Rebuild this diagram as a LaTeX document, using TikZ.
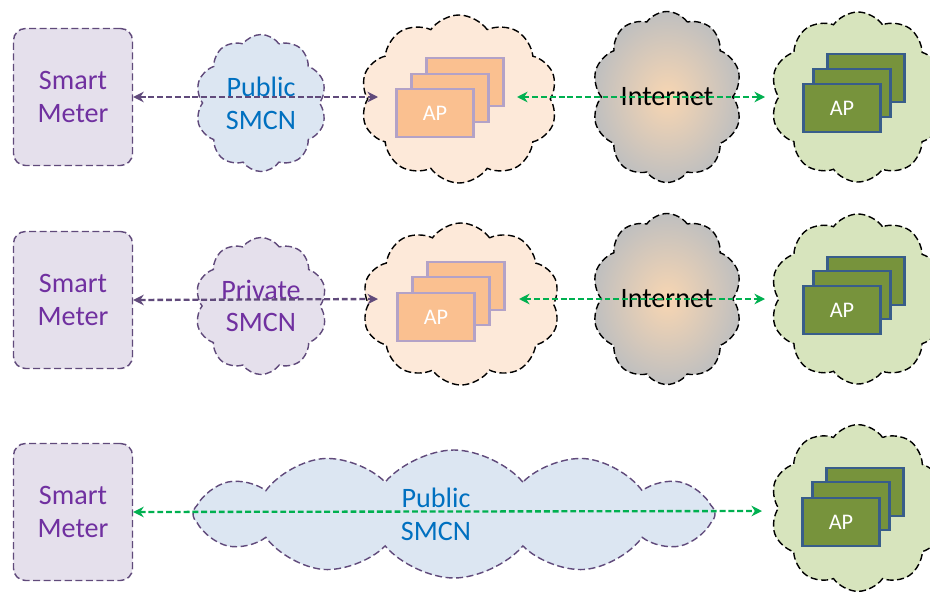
\documentclass[tikz,border=0pt]{standalone}
\usepackage{fontspec}
\setmainfont{Carlito}
\usetikzlibrary{shapes.symbols,arrows.meta}

\definecolor{smpurple}{HTML}{7030A0}
\definecolor{smblue}{HTML}{0070C0}
\definecolor{lavender}{HTML}{E5E0EC}
\definecolor{skyfill}{HTML}{DCE6F2}
\definecolor{peach}{HTML}{FDE9D9}
\definecolor{apfill}{HTML}{FAC090}
\definecolor{apedge}{HTML}{B3A2C7}
\definecolor{leaf}{HTML}{D7E4BD}
\definecolor{olive}{HTML}{77933C}
\definecolor{gapedge}{HTML}{385D8A}
\definecolor{linkpurple}{HTML}{604A7B}
\definecolor{linkgreen}{HTML}{00B050}
\definecolor{netgray}{HTML}{BFBFBF}
\definecolor{netglow}{HTML}{F8D6B2}

\begin{document}
\begin{tikzpicture}[
  x=0.03cm, y=-0.03cm,
  meter/.style={rectangle, rounded corners=0.36cm, draw=linkpurple, dash pattern=on 6pt off 3pt, line width=1.2pt, fill=lavender, minimum width=3.57cm, minimum height=4.11cm, text=smpurple, font=\fontsize{24}{28}\selectfont, align=center},
  net/.style={cloud, cloud puffs=10, cloud puff arc=110, cloud ignores aspect, draw, dash pattern=on 6pt off 3pt, line width=1.2pt, inner sep=0pt, align=center, font=\fontsize{24}{28}\selectfont},
  orangeap/.style={rectangle, fill=apfill, draw=apedge, line width=2pt, minimum width=2.31cm, minimum height=1.44cm, text=white, font=\fontsize{19}{22}\selectfont},
  greenap/.style={rectangle, fill=olive, draw=gapedge, line width=2.2pt, minimum width=2.31cm, minimum height=1.44cm, text=white, font=\fontsize{19}{22}\selectfont},
  purplelink/.style={draw=linkpurple, line width=2pt, dash pattern=on 5pt off 2.5pt, {Stealth[length=9pt,width=9pt]}-{Stealth[length=9pt,width=9pt]}},
  greenlink/.style={draw=linkgreen, line width=2pt, dash pattern=on 5pt off 2.5pt, {Stealth[length=9pt,width=9pt]}-{Stealth[length=9pt,width=9pt]}}
]
  \useasboundingbox (0,0) rectangle (930,591);

  % Row 1 - public SMCN
  \node[meter] (sm1) at (73,97) {Smart\\Meter};
  \node[net, fill=skyfill, draw=linkpurple, text=smblue, minimum width=3.93cm, minimum height=4.11cm] (smcn1) at (261,103) {Public\\SMCN};
  \node[net, fill=peach, minimum width=5.91cm, minimum height=5.04cm] (apc1) at (459,99) {};
  \node[net, inner color=netglow, outer color=netgray, minimum width=4.5cm, minimum height=5.13cm] (web1) at (667,97) {Internet};
  \node[net, fill=leaf, minimum width=5.25cm, minimum height=5.1cm] (hq1) at (858,97) {};
  \node[orangeap] (ap1c) at (465,82) {};
  \node[orangeap] (ap1b) at (450,98) {};
  \node[orangeap] (ap1a) at (435,113) {AP};
  \node[greenap] (hq1c) at (866,78) {};
  \node[greenap] (hq1b) at (852,93) {};
  \node[greenap] (hq1a) at (842,108) {AP};
  \coordinate (pin1) at (378,97);
  \coordinate (gout1) at (517,97);
  \coordinate (gin1) at (765,97);

  % Row 2 - private SMCN
  \node[meter] (sm2) at (73,300) {Smart\\Meter};
  \node[net, fill=lavender, draw=linkpurple, text=smpurple, minimum width=3.96cm, minimum height=4.11cm] (smcn2) at (261,306) {Private\\SMCN};
  \node[net, fill=peach, minimum width=5.94cm, minimum height=4.86cm] (apc2) at (461,304) {};
  \node[net, inner color=netglow, outer color=netgray, minimum width=4.5cm, minimum height=5.13cm] (web2) at (667,299) {Internet};
  \node[net, fill=leaf, minimum width=5.25cm, minimum height=5.1cm] (hq2) at (858,299) {};
  \node[orangeap] (ap2c) at (466,286) {};
  \node[orangeap] (ap2b) at (451,301) {};
  \node[orangeap] (ap2a) at (436,317) {AP};
  \node[greenap] (hq2c) at (866,281) {};
  \node[greenap] (hq2b) at (852,295) {};
  \node[greenap] (hq2a) at (842,310) {AP};
  \coordinate (pin2) at (378,299);
  \coordinate (gout2) at (519,299);
  \coordinate (gin2) at (765,299);

  % Row 3 - public SMCN straight to the utility
  \node[meter] (sm3) at (73,512) {Smart\\Meter};
  \node[net, cloud puffs=12, cloud puff arc=100, fill=skyfill, draw=linkpurple, minimum width=15.66cm, minimum height=3.84cm] (smcn3) at (454,514) {};
  \node[text=smblue, align=center, font=\fontsize{24}{28}\selectfont] (smcn3txt) at (436,514) {Public\\SMCN};
  \node[net, fill=leaf, minimum width=5.25cm, minimum height=5cm] (hq3) at (858,508) {};
  \node[greenap] (hq3c) at (865,492) {};
  \node[greenap] (hq3b) at (851,506) {};
  \node[greenap] (hq3a) at (841,522) {AP};
  \coordinate (gin3) at (762,511);

  % Links
  \draw[purplelink] (sm1.east) -- (pin1);
  \draw[greenlink] (gout1) -- (gin1);
  \draw[purplelink] (sm2.east) -- (pin2);
  \draw[greenlink] (gout2) -- (gin2);
  \draw[greenlink] (sm3.east) -- (gin3);
\end{tikzpicture}
\end{document}
